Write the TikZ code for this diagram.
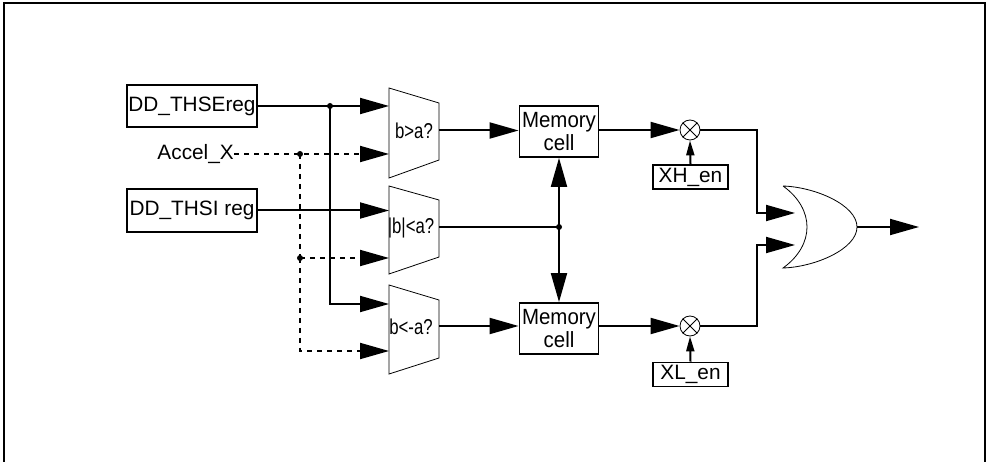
\documentclass[tikz,border=0pt]{standalone}
\usepackage{fontspec}
\setmainfont{Liberation Sans}
\newfontfamily\cmpfont[FakeStretch=0.78]{Liberation Sans}
\newfontfamily\memfont[FakeStretch=0.93]{Liberation Sans}
\usetikzlibrary{arrows.meta,calc}
\begin{document}
\begin{tikzpicture}[x=1pt,y=-1pt,
  wire/.style={line width=2pt},
  dsh/.style={line width=2pt, dash pattern=on 5pt off 5pt},
  big/.style={-{Triangle[length=29pt,width=16pt]}},
  small/.style={-{Triangle[length=15pt,width=8pt]}},
  box/.style={draw, line width=1.8pt, inner sep=0pt, font=\fontsize{20.8}{22}\selectfont},
  membox/.style={box, minimum width=79pt, minimum height=51pt, align=center, font=\memfont\fontsize{22}{23}\selectfont},
  dot/.style={circle, fill, inner sep=0pt, minimum size=6pt},
  cmplabel/.style={font=\cmpfont\fontsize{21.5}{23}\selectfont, inner sep=0pt},
  thin/.style={line width=0.8pt},
]
\useasboundingbox (0,0) rectangle (988,462);
\draw[line width=2.2pt] (3.7,462) -- (3.7,3.3) -- (985,3.3) -- (985,462);

% registers
\node[box, minimum width=130pt, minimum height=42pt] (thse) at (192,106) {DD\_THSEreg};
\node[box, minimum width=130pt, minimum height=43pt] (thsi) at (192,210.5) {DD\_THSI reg};
\node[anchor=east, inner sep=0pt, font=\fontsize{20.8}{22}\selectfont] (accel) at (234,154) {Accel\_X};

% comparators
\draw[thin] (389,88) -- (439,103) -- (439,160) -- (389,178) -- cycle;
\node[cmplabel] (c1) at (414,131) {b>a?};
\draw[thin] (389,186) -- (439,200) -- (439,257) -- (389,274) -- cycle;
\node[cmplabel] (c2) at (411,228) {|b|<a?};
\draw[thin] (389,285) -- (439,300) -- (439,358) -- (389,374) -- cycle;
\node[cmplabel] (c3) at (411,327) {b<-a?};

\coordinate (c1a) at (389,106);
\coordinate (c1b) at (389,154);
\coordinate (c1o) at (439,130.5);
\coordinate (c2a) at (389,210.5);
\coordinate (c2b) at (389,258);
\coordinate (c2o) at (439,227);
\coordinate (c3a) at (389,304);
\coordinate (c3b) at (389,351);
\coordinate (c3o) at (439,326);

% input wiring
\node[dot] (j1) at (330,106) {};
\draw[wire,big] (thse.east) -- (c1a);
\draw[wire,big] (j1.center) |- (c3a);
\draw[wire,big] (thsi.east) -- (c2a);

\node[dot] (j2) at (300,154) {};
\node[dot] (j3) at (300,258) {};
\draw[dsh,big] (accel.east) -- (c1b);
\draw[dsh] (j2.center) -- (j3.center);
\draw[dsh,big] (j3.center) -- (c2b);
\draw[dsh,big] (j3.center) |- (c3b);

% memory cells
\node[membox] (m1) at (559,131.5) {Memory\\cell};
\node[membox] (m2) at (559,328.5) {Memory\\cell};
\draw[wire,big] (c1o) -- (c1o -| m1.west);
\draw[wire,big] (c3o) -- (c3o -| m2.west);
\node[dot] (j4) at (559,227) {};
\draw[wire] (c2o) -- (j4.center);
\draw[wire,big] (j4.center) -- (m1.south);
\draw[wire,big] (j4.center) -- (m2.north);

% multipliers
\node[circle, draw, thin, minimum size=20pt, inner sep=0pt] (x1) at (690,130) {};
\draw[thin] (x1.north east) -- (x1.south west) (x1.north west) -- (x1.south east);
\node[circle, draw, thin, minimum size=20pt, inner sep=0pt] (x2) at (690,326) {};
\draw[thin] (x2.north east) -- (x2.south west) (x2.north west) -- (x2.south east);
\draw[wire,big] (x1 -| m1.east) -- (x1.west);
\draw[wire,big] (x2 -| m2.east) -- (x2.west);

\node[box, minimum width=75pt, minimum height=24pt] (xh) at (690.5,177) {XH\_en};
\node[box, minimum width=75pt, minimum height=24pt] (xl) at (690.5,374.5) {XL\_en};
\draw[wire,small] (xh.north) -- (x1.south);
\draw[wire,small] (xl.north) -- (x2.south);

% OR gate
\coordinate (ortop) at (783,186);
\coordinate (orbot) at (783,268);
\coordinate (orout) at (857,227);
\draw[thin] (ortop) .. controls (815,187) and (857,205) .. (orout)
  .. controls (857,249) and (815,267) .. (orbot)
  .. controls (815,245) and (815,209) .. (ortop);
\coordinate (or1) at (795,213);
\coordinate (or2) at (795,245);
\coordinate (b1) at (757,130);
\coordinate (b2) at (757,326);
\draw[wire,big] (x1.east) -- (b1) |- (or1);
\draw[wire,big] (x2.east) -- (b2) |- (or2);
\coordinate (oend) at (919,227);
\draw[wire,big] (orout) -- (oend);
\end{tikzpicture}
\end{document}
